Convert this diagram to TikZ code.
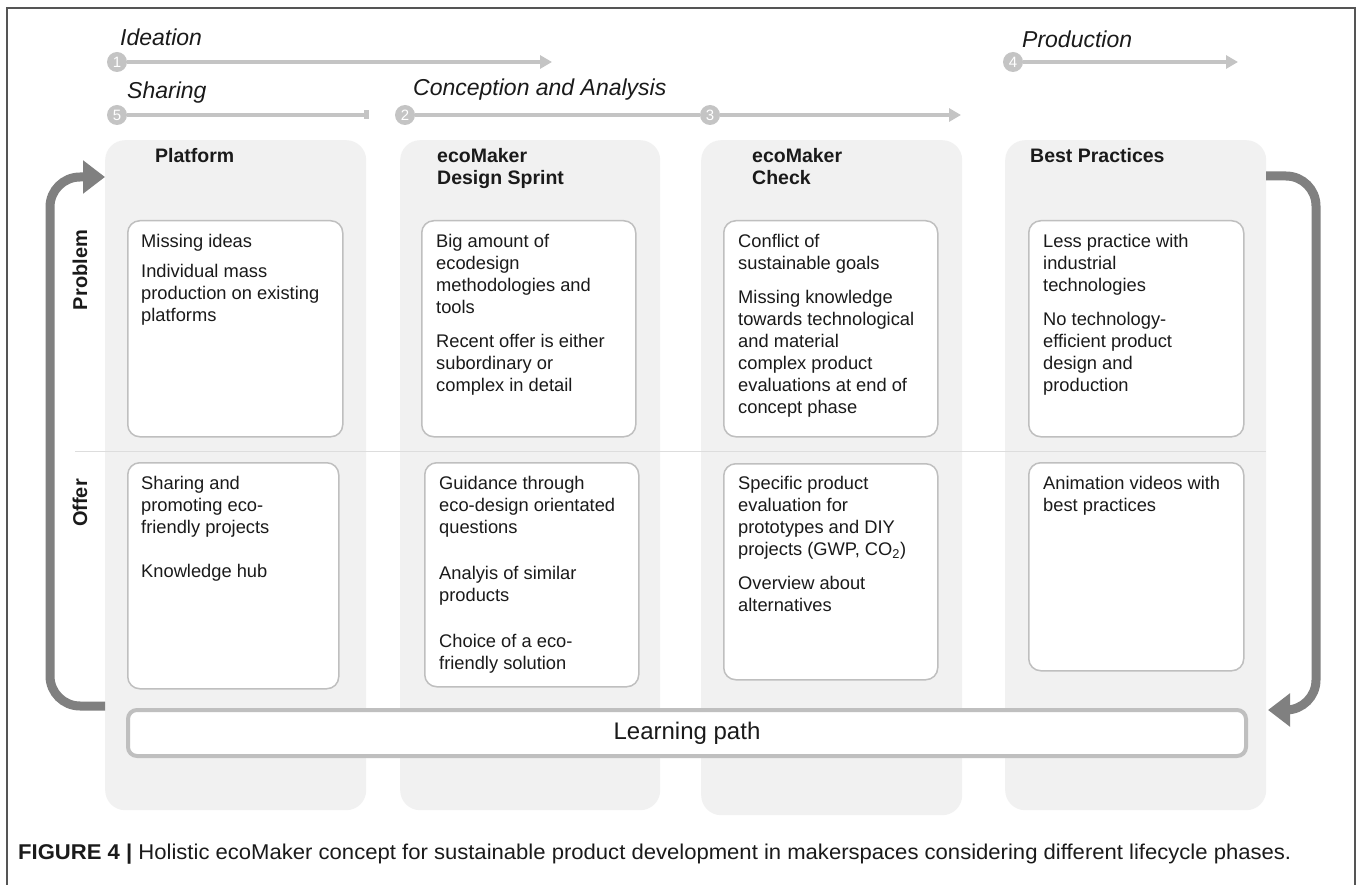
\documentclass[tikz,border=0pt]{standalone}
\usepackage{fontspec}
\setmainfont{Liberation Sans}
\usetikzlibrary{arrows.meta}
\definecolor{colbg}{HTML}{F1F1F1}
\definecolor{bord}{HTML}{BFBFBF}
\definecolor{phase}{HTML}{C4C4C4}
\definecolor{bigarr}{HTML}{808080}
\definecolor{txt}{HTML}{1A1A1A}
\definecolor{divline}{HTML}{DDDDDD}
\definecolor{framec}{HTML}{555555}
\begin{document}
\begin{tikzpicture}[x=1pt,y=-1pt,
  colbox/.style={fill=colbg, draw=none, rounded corners=20pt, anchor=north west, inner sep=0pt},
  inbox/.style={fill=white, draw=bord, line width=1.5pt, rounded corners=12pt, anchor=north west, inner sep=0pt},
  body/.style={font=\fontsize{18.3}{22}\selectfont, align=left, anchor=north west, inner sep=0pt, text=txt},
  head/.style={font=\fontsize{19.5}{22}\selectfont\bfseries, align=left, anchor=north west, inner sep=0pt, text=txt},
  phasetxt/.style={font=\fontsize{23}{26}\selectfont\itshape, anchor=base west, inner sep=0pt, text=txt},
  rowlab/.style={font=\fontsize{20}{22}\selectfont\bfseries, rotate=90, inner sep=0pt, text=txt},
  num/.style={circle, fill=phase, minimum size=20pt, inner sep=0pt, text=white, font=\fontsize{15}{15}\selectfont},
  phasearr/.style={draw=phase, line width=4pt, -{Triangle[length=12pt,width=13pt]}},
  bigarrow/.style={draw=bigarr, line width=9pt, rounded corners=30pt, -{Triangle[length=22pt,width=32pt]}}
]
\useasboundingbox (0,0) rectangle (1358,885);
\fill[white] (0,0) rectangle (1358,885);
% frame
\draw[framec, line width=1.5pt] (7,885) -- (7,8) -- (1355,8) -- (1355,885);

% columns
\node[colbox, minimum width=261pt, minimum height=670pt] (c1) at (105,140) {};
\node[colbox, minimum width=260pt, minimum height=670pt] (c2) at (400,140) {};
\node[colbox, minimum width=261pt, minimum height=675pt] (c3) at (701,140) {};
\node[colbox, minimum width=261pt, minimum height=670pt] (c4) at (1005,140) {};

% divider
\coordinate (dl) at (75,451);
\coordinate (dr) at (1266,451);
\draw[divline, line width=1pt] (dl) -- (dr);

% row labels
\node[rowlab] (lprob) at (80,270) {Problem};
\node[rowlab] (loffer) at (80,503) {Offer};

% headers
\node[head] (h1) at (155,148) {Platform};
\node[head] (h2) at (437,148) {ecoMaker\\Design Sprint};
\node[head] (h3) at (752,148) {ecoMaker\\Check};
\node[head] (h4) at (1030,148) {Best Practices};

% inner boxes
\node[inbox, minimum width=215pt, minimum height=216pt] (p1) at (127,220) {};
\node[inbox, minimum width=214pt, minimum height=216pt] (p2) at (421,220) {};
\node[inbox, minimum width=214pt, minimum height=216pt] (p3) at (723,220) {};
\node[inbox, minimum width=215pt, minimum height=216pt] (p4) at (1028,220) {};
\node[inbox, minimum width=211pt, minimum height=226pt] (o1) at (127,462) {};
\node[inbox, minimum width=214pt, minimum height=224pt] (o2) at (424,462) {};
\node[inbox, minimum width=214pt, minimum height=216pt] (o3) at (723,463) {};
\node[inbox, minimum width=215pt, minimum height=208pt] (o4) at (1028,462) {};

% texts
\node[body] (tp1) at (141,234) {\rule{0pt}{13.5pt}Missing ideas\\[8pt]Individual mass\\production on existing\\platforms};
\node[body] (tp2) at (436,234) {\rule{0pt}{13.5pt}Big amount of\\ecodesign\\methodologies and\\tools\\[12pt]Recent offer is either\\subordinary or\\complex in detail};
\node[body] (tp3) at (738,234) {\rule{0pt}{13.5pt}Conflict of\\sustainable goals\\[12pt]Missing knowledge\\towards technological\\and material\\complex product\\evaluations at end of\\concept phase};
\node[body] (tp4) at (1043,234) {\rule{0pt}{13.5pt}Less practice with\\industrial\\technologies\\[12pt]No technology-\\efficient product\\design and\\production};
\node[body] (to1) at (141,476) {\rule{0pt}{13.5pt}Sharing and\\promoting eco-\\friendly projects\\[22pt]Knowledge hub};
\node[body] (to2) at (439,476) {\rule{0pt}{13.5pt}Guidance through\\eco-design orientated\\questions\\[24pt]Analyis of similar\\products\\[24pt]Choice of a eco-\\friendly solution};
\node[body] (to3) at (738,476) {\rule{0pt}{13.5pt}Specific product\\evaluation for\\prototypes and DIY\\projects (GWP, CO\textsubscript{2})\\[12pt]Overview about\\alternatives};
\node[body] (to4) at (1043,476) {\rule{0pt}{13.5pt}Animation videos with\\best practices};

% learning path
\node[draw=bord, line width=4pt, fill=white, rounded corners=9pt, minimum width=1118pt, minimum height=46pt, inner sep=0pt, font=\fontsize{24}{26}\selectfont, text=txt] (lp) at (687,733) {Learning path};

% big arrows
\coordinate (la) at (105,706);
\coordinate (lb) at (105,177);
\draw[bigarrow] (la) -- ++(-55,0) |- (lb);
\coordinate (ra) at (1266,176);
\coordinate (rb) at (1268,710);
\draw[bigarrow] (ra) -- ++(50,0) |- (rb);

% phase labels
\node[phasetxt] (tid) at (120,46) {Ideation};
\node[phasetxt] (tsh) at (127,99) {Sharing};
\node[phasetxt] (tca) at (413,96) {Conception and Analysis};
\node[phasetxt] (tpr) at (1022,48) {Production};

% phase arrows
\node[num] (n1) at (117,62) {1};
\node[num] (n5) at (117,115) {5};
\node[num] (n2) at (405,115) {2};
\node[num] (n3) at (710,115) {3};
\node[num] (n4) at (1013,62) {4};
\coordinate (e1) at (552,62);
\coordinate (e5) at (369,115);
\coordinate (e3) at (961,115);
\coordinate (e4) at (1238,62);
\draw[phasearr] (n1) -- (e1);
\draw[draw=phase, line width=4pt, -{Square[length=5pt,width=9pt]}] (n5) -- (e5);
\draw[draw=phase, line width=4pt] (n2) -- (n3);
\draw[phasearr] (n3) -- (e3);
\draw[phasearr] (n4) -- (e4);

% caption
\node[anchor=base west, inner sep=0pt, text=txt] (cap) at (18,859) {\resizebox{1273pt}{15.5pt}{\textbf{FIGURE 4 |} Holistic ecoMaker concept for sustainable product development in makerspaces considering different lifecycle phases.}};
\end{tikzpicture}
\end{document}
